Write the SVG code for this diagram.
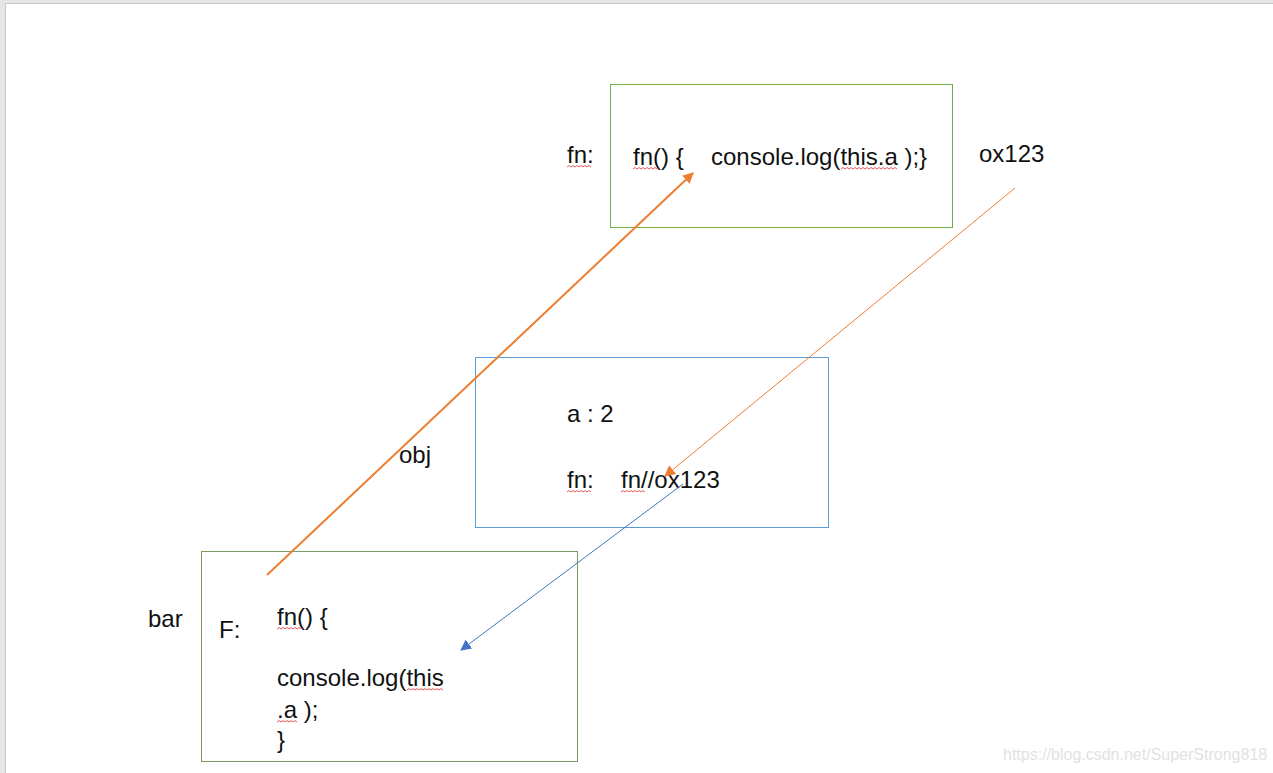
<svg xmlns="http://www.w3.org/2000/svg" width="1273" height="773" viewBox="0 0 1273 773">
<style>
text{font-family:"Liberation Sans","Noto Sans",sans-serif;font-size:24px;fill:#111}
.box{fill:none;stroke-width:1}
.sq{fill:none;stroke:#e03030;stroke-width:0.8}
.wm{font-size:16px;fill:#e2e2e2}
</style>
<defs>
<marker id="ao2" viewBox="0 0 10 10" refX="9" refY="5" markerWidth="11" markerHeight="11" orient="auto" markerUnits="userSpaceOnUse"><path d="M0,0L10,5L0,10z" fill="#ed7d31"/></marker>
<marker id="ab" viewBox="0 0 10 10" refX="9" refY="5" markerWidth="11" markerHeight="11" orient="auto" markerUnits="userSpaceOnUse"><path d="M0,0L10,5L0,10z" fill="#4472c4"/></marker>
</defs>
<rect x="0" y="0" width="1273" height="773" fill="#e6e6e6"/>
<rect x="5.5" y="3.5" width="1280" height="800" fill="#fff" stroke="#c8c8c8"/>

<g id="fnBox">
<rect class="box" x="610.5" y="84.5" width="342" height="143" stroke="#70ad47"/>
<text x="633" y="165">fn() {</text>
<text x="711" y="165">console.log(this.a );}</text>
<path class="sq" d="M633,169 l2,-1.5 l2,1.5 l2,-1.5 l2,1.5 l2,-1.5 l2,1.5 l2,-1.5 l2,1.5 l2,-1.5 l2,1.5 l2,-1.5 l2,1.5"/>
<path class="sq" d="M841,169 l2,-1.5 l2,1.5 l2,-1.5 l2,1.5 l2,-1.5 l2,1.5 l2,-1.5 l2,1.5 l2,-1.5 l2,1.5 l2,-1.5 l2,1.5 l2,-1.5 l2,1.5 l2,-1.5 l2,1.5 l2,-1.5 l2,1.5 l2,-1.5 l2,1.5 l2,-1.5 l2,1.5 l2,-1.5 l2,1.5 l2,-1.5 l2,1.5 l2,-1.5 l2,1.5"/>
</g>
<g id="fnLabel">
<text x="567" y="163">fn:</text>
<path class="sq" d="M567,167 l2,-1.5 l2,1.5 l2,-1.5 l2,1.5 l2,-1.5 l2,1.5 l2,-1.5 l2,1.5 l2,-1.5 l2,1.5 l2,-1.5 l2,1.5"/>
</g>
<g id="addr">
<text x="979" y="162">ox123</text>
</g>

<g id="objBox">
<rect class="box" x="475.5" y="357.5" width="353" height="170" stroke="#5b9bd5"/>
<text x="567" y="422">a : 2</text>
<text x="567" y="488">fn:</text>
<text x="621" y="488">fn//ox123</text>
<path class="sq" d="M567,492 l2,-1.5 l2,1.5 l2,-1.5 l2,1.5 l2,-1.5 l2,1.5 l2,-1.5 l2,1.5 l2,-1.5 l2,1.5 l2,-1.5 l2,1.5"/>
<path class="sq" d="M621,492 l2,-1.5 l2,1.5 l2,-1.5 l2,1.5 l2,-1.5 l2,1.5 l2,-1.5 l2,1.5 l2,-1.5 l2,1.5 l2,-1.5 l2,1.5"/>
</g>
<g id="objLabel"><text x="399" y="463">obj</text></g>

<g id="barBox">
<rect class="box" x="201.5" y="551.5" width="376" height="210" stroke="#7a9a66"/>
<text x="219" y="638">F:</text>
<text x="277" y="625">fn() {</text>
<text x="277" y="686">console.log(this</text>
<text x="277" y="718">.a );</text>
<text x="277" y="748">}</text>
<path class="sq" d="M277,629 l2,-1.5 l2,1.5 l2,-1.5 l2,1.5 l2,-1.5 l2,1.5 l2,-1.5 l2,1.5 l2,-1.5 l2,1.5 l2,-1.5 l2,1.5"/>
<path class="sq" d="M407,690 l2,-1.5 l2,1.5 l2,-1.5 l2,1.5 l2,-1.5 l2,1.5 l2,-1.5 l2,1.5 l2,-1.5 l2,1.5 l2,-1.5 l2,1.5 l2,-1.5 l2,1.5 l2,-1.5 l2,1.5 l2,-1.5 l2,1.5"/>
<path class="sq" d="M277,722 l2,-1.5 l2,1.5 l2,-1.5 l2,1.5 l2,-1.5 l2,1.5 l2,-1.5 l2,1.5 l2,-1.5 l2,1.5"/>
</g>
<g id="barLabel"><text x="148" y="627">bar</text></g>

<g id="connectors">
<line x1="267" y1="575" x2="693" y2="173" stroke="#ed7d31" stroke-width="2" marker-end="url(#ao2)"/>
<line x1="1015" y1="188" x2="665" y2="476" stroke="#ed7d31" stroke-width="1" marker-end="url(#ao2)"/>
<line x1="683" y1="484" x2="461" y2="650" stroke="#4472c4" stroke-width="1" marker-end="url(#ab)"/>
</g>

<text class="wm" x="1003" y="760">https://blog.csdn.net/SuperStrong818</text>
</svg>
